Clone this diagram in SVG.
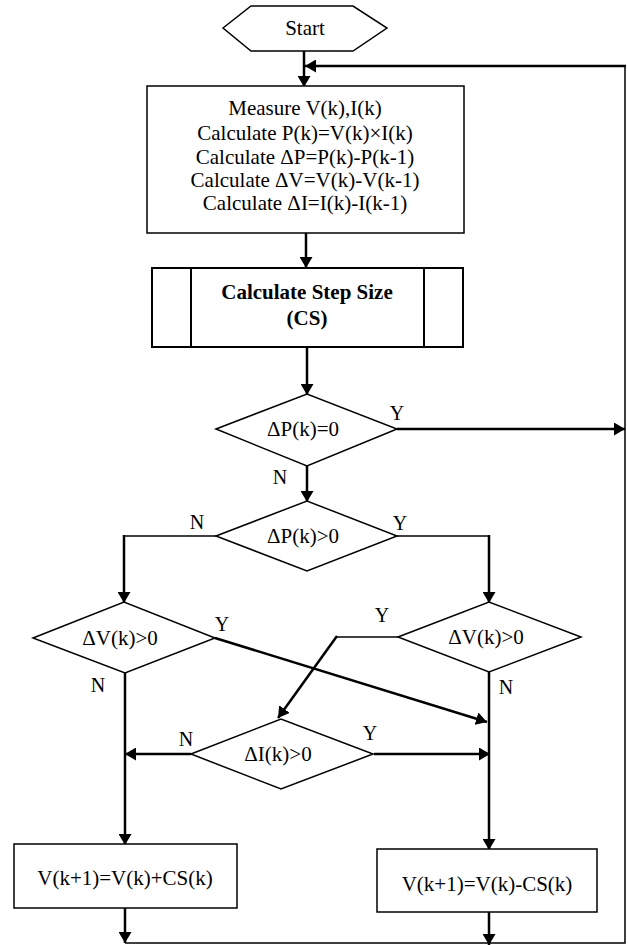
<svg xmlns="http://www.w3.org/2000/svg" width="628" height="945" viewBox="0 0 628 945">
<style>
text{font-family:"Liberation Serif","Times New Roman",serif;font-size:21px;fill:#000;text-anchor:middle}
.lbl{font-size:20px}
.b{font-weight:bold}
.shape{fill:#fff;stroke:#000;stroke-width:1.5}
.c{fill:none;stroke:#000;stroke-width:2.5}
.t{fill:none;stroke:#000;stroke-width:1.5}
</style>
<defs>
<marker id="ah" viewBox="0 0 11 13" refX="11" refY="6.5" markerWidth="11" markerHeight="13" markerUnits="userSpaceOnUse" orient="auto">
<path d="M0,0 L11,6.5 L0,13 z" fill="#000"/>
</marker>
</defs>
<g id="connectors">
<path class="t" d="M125,943 H625 V66"/>
<path class="c" d="M626,66 H305" marker-end="url(#ah)"/>
<path class="c" d="M304,51 V87" marker-end="url(#ah)"/>
<path class="c" d="M306,233 V268" marker-end="url(#ah)"/>
<path class="c" d="M307,347 V395" marker-end="url(#ah)"/>
<path class="c" d="M397,429 H625" marker-end="url(#ah)"/>
<path class="c" d="M307,466 V502" marker-end="url(#ah)"/>
<path class="t" d="M216,536 H124"/>
<path class="c" d="M124,535 V603" marker-end="url(#ah)"/>
<path class="t" d="M397,536 H489"/>
<path class="c" d="M489,535 V603" marker-end="url(#ah)"/>
<path class="c" d="M215,638 L487,722" marker-end="url(#ah)"/>
<path class="c" d="M125,673 V845" marker-end="url(#ah)"/>
<path class="t" d="M398,637 H336"/>
<path class="c" d="M337,636 L278,718" marker-end="url(#ah)"/>
<path class="c" d="M489,672 V850" marker-end="url(#ah)"/>
<path class="c" d="M191,754 H125" marker-end="url(#ah)"/>
<path class="c" d="M374,754 H490" marker-end="url(#ah)"/>
<path class="c" d="M125,908 V943" marker-end="url(#ah)"/>
<path class="c" d="M489,912 V945" marker-end="url(#ah)"/>
</g>
<g id="start">
<polygon class="shape" points="223,28 251,6 353,6 387,28 353,51 251,51"/>
<text x="305" y="35">Start</text>
</g>
<g id="measure">
<rect class="shape" x="147" y="86" width="317" height="147"/>
<text x="305" y="115">Measure V(k),I(k)</text>
<text x="305" y="140">Calculate P(k)=V(k)×I(k)</text>
<text x="305" y="164">Calculate ΔP=P(k)-P(k-1)</text>
<text x="305" y="187">Calculate ΔV=V(k)-V(k-1)</text>
<text x="305" y="210">Calculate ΔI=I(k)-I(k-1)</text>
</g>
<g id="stepsize">
<rect class="shape" x="152" y="268" width="311" height="79" style="stroke-width:2"/>
<path d="M191,268 V347 M424,268 V347" stroke="#000" stroke-width="2"/>
<text class="b" x="307" y="299">Calculate Step Size</text>
<text class="b" x="307" y="325">(CS)</text>
</g>
<g id="d1">
<polygon class="shape" points="216,429 307,394 397,429 307,466"/>
<text x="303" y="436">ΔP(k)=0</text>
<text class="lbl" x="397" y="420">Y</text>
<text class="lbl" x="280" y="484">N</text>
</g>
<g id="d2">
<polygon class="shape" points="216,536 307,501 397,536 307,571"/>
<text x="303" y="543">ΔP(k)&gt;0</text>
<text class="lbl" x="197" y="529">N</text>
<text class="lbl" x="400" y="530">Y</text>
</g>
<g id="d3">
<polygon class="shape" points="33,638 124,602 215,638 125,673"/>
<text x="120" y="645">ΔV(k)&gt;0</text>
<text class="lbl" x="222" y="631">Y</text>
<text class="lbl" x="98" y="692">N</text>
</g>
<g id="d4">
<polygon class="shape" points="398,637 489,602 581,637 489,672"/>
<text x="486" y="644">ΔV(k)&gt;0</text>
<text class="lbl" x="382" y="622">Y</text>
<text class="lbl" x="506" y="694">N</text>
</g>
<g id="d5">
<polygon class="shape" points="191,754 281,719 373,754 281,789"/>
<text x="278" y="761">ΔI(k)&gt;0</text>
<text class="lbl" x="186" y="746">N</text>
<text class="lbl" x="370" y="740">Y</text>
</g>
<g id="inc">
<rect class="shape" x="14" y="844" width="223" height="64"/>
<text x="125" y="885">V(k+1)=V(k)+CS(k)</text>
</g>
<g id="dec">
<rect class="shape" x="377" y="849" width="220" height="63"/>
<text x="487" y="891">V(k+1)=V(k)-CS(k)</text>
</g>
</svg>
